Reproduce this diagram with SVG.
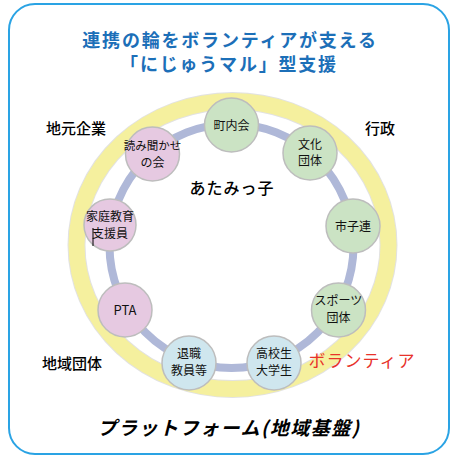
<svg xmlns="http://www.w3.org/2000/svg" width="459" height="460" viewBox="0 0 459 460">
<style>
text{font-family:"Noto Sans CJK JP","Noto Sans",sans-serif;text-anchor:middle;fill:#1a1a1a}
.title{font-size:18px;font-weight:bold;fill:#1c6fb8;letter-spacing:1.8px}
.lbl{font-size:15px;font-weight:500;fill:#000}
.nt{font-size:12px;fill:#111}
.node circle{stroke:#bdbdbd;stroke-width:1.5}
.g circle{fill:#cbe3c4}
.p circle{fill:#e6c9e1}
.b circle{fill:#cfe6ee}
</style>
<rect x="9" y="4" width="440" height="450" rx="26" fill="#fff" stroke="#2aa3e4" stroke-width="2"/>
<text class="title" x="230" y="47">連携の輪をボランティアが支える</text>
<text class="title" x="229" y="71">「にじゅうマル」型支援</text>
<g id="rings">
<ellipse cx="232.5" cy="245" rx="156" ry="144" fill="none" stroke="#e2e2e2" stroke-width="18"/>
<ellipse cx="232.5" cy="245" rx="156" ry="144" fill="none" stroke="#f5f09e" stroke-width="16"/>
<circle cx="231.5" cy="246" r="122" fill="none" stroke="#afb8d8" stroke-width="8"/>
</g>
<text class="lbl" x="76" y="134">地元企業</text>
<text class="lbl" x="380" y="134">行政</text>
<text class="lbl" x="72" y="369">地域団体</text>
<text x="362" y="367" style="font-size:17px;fill:#e8322a;letter-spacing:1px">ボランティア</text>
<text x="232" y="194" style="font-size:16px;font-weight:500;letter-spacing:1px;fill:#000">あたみっ子</text>
<g id="n1" class="node g"><circle cx="231.5" cy="125" r="27"/><text class="nt" x="231.5" y="129.5">町内会</text></g>
<g id="n2" class="node g"><circle cx="310" cy="153" r="27"/><text class="nt" x="310" y="149">文化</text><text class="nt" x="310" y="165">団体</text></g>
<g id="n3" class="node g"><circle cx="353" cy="226" r="27"/><text class="nt" x="353" y="230.5">市子連</text></g>
<g id="n4" class="node g"><circle cx="338.5" cy="310" r="27"/><text class="nt" x="338.5" y="305">スポーツ</text><text class="nt" x="338.5" y="322">団体</text></g>
<g id="n5" class="node b"><circle cx="274" cy="363" r="27"/><text class="nt" x="274" y="358">高校生</text><text class="nt" x="274" y="375">大学生</text></g>
<g id="n6" class="node b"><circle cx="189" cy="363" r="27"/><text class="nt" x="189" y="358">退職</text><text class="nt" x="189" y="375">教員等</text></g>
<g id="n7" class="node p"><circle cx="125" cy="310" r="27"/><text x="125" y="315" style="font-size:13px;fill:#111">PTA</text></g>
<g id="n8" class="node p"><circle cx="110" cy="225" r="26"/><text class="nt" x="110" y="221">家庭教育</text><text class="nt" x="110" y="238">支援員</text><line x1="93" y1="228" x2="93" y2="246" stroke="#000" stroke-width="1"/></g>
<g id="n9" class="node p"><circle cx="152.5" cy="154" r="27"/><text class="nt" x="152.5" y="150" style="font-size:11.5px">読み聞かせ</text><text class="nt" x="152.5" y="167">の会</text></g>
<text x="229" y="435" style="font-size:19px;font-weight:bold;font-style:italic;fill:#000;letter-spacing:1.5px">プラットフォーム(地域基盤)</text>
</svg>
